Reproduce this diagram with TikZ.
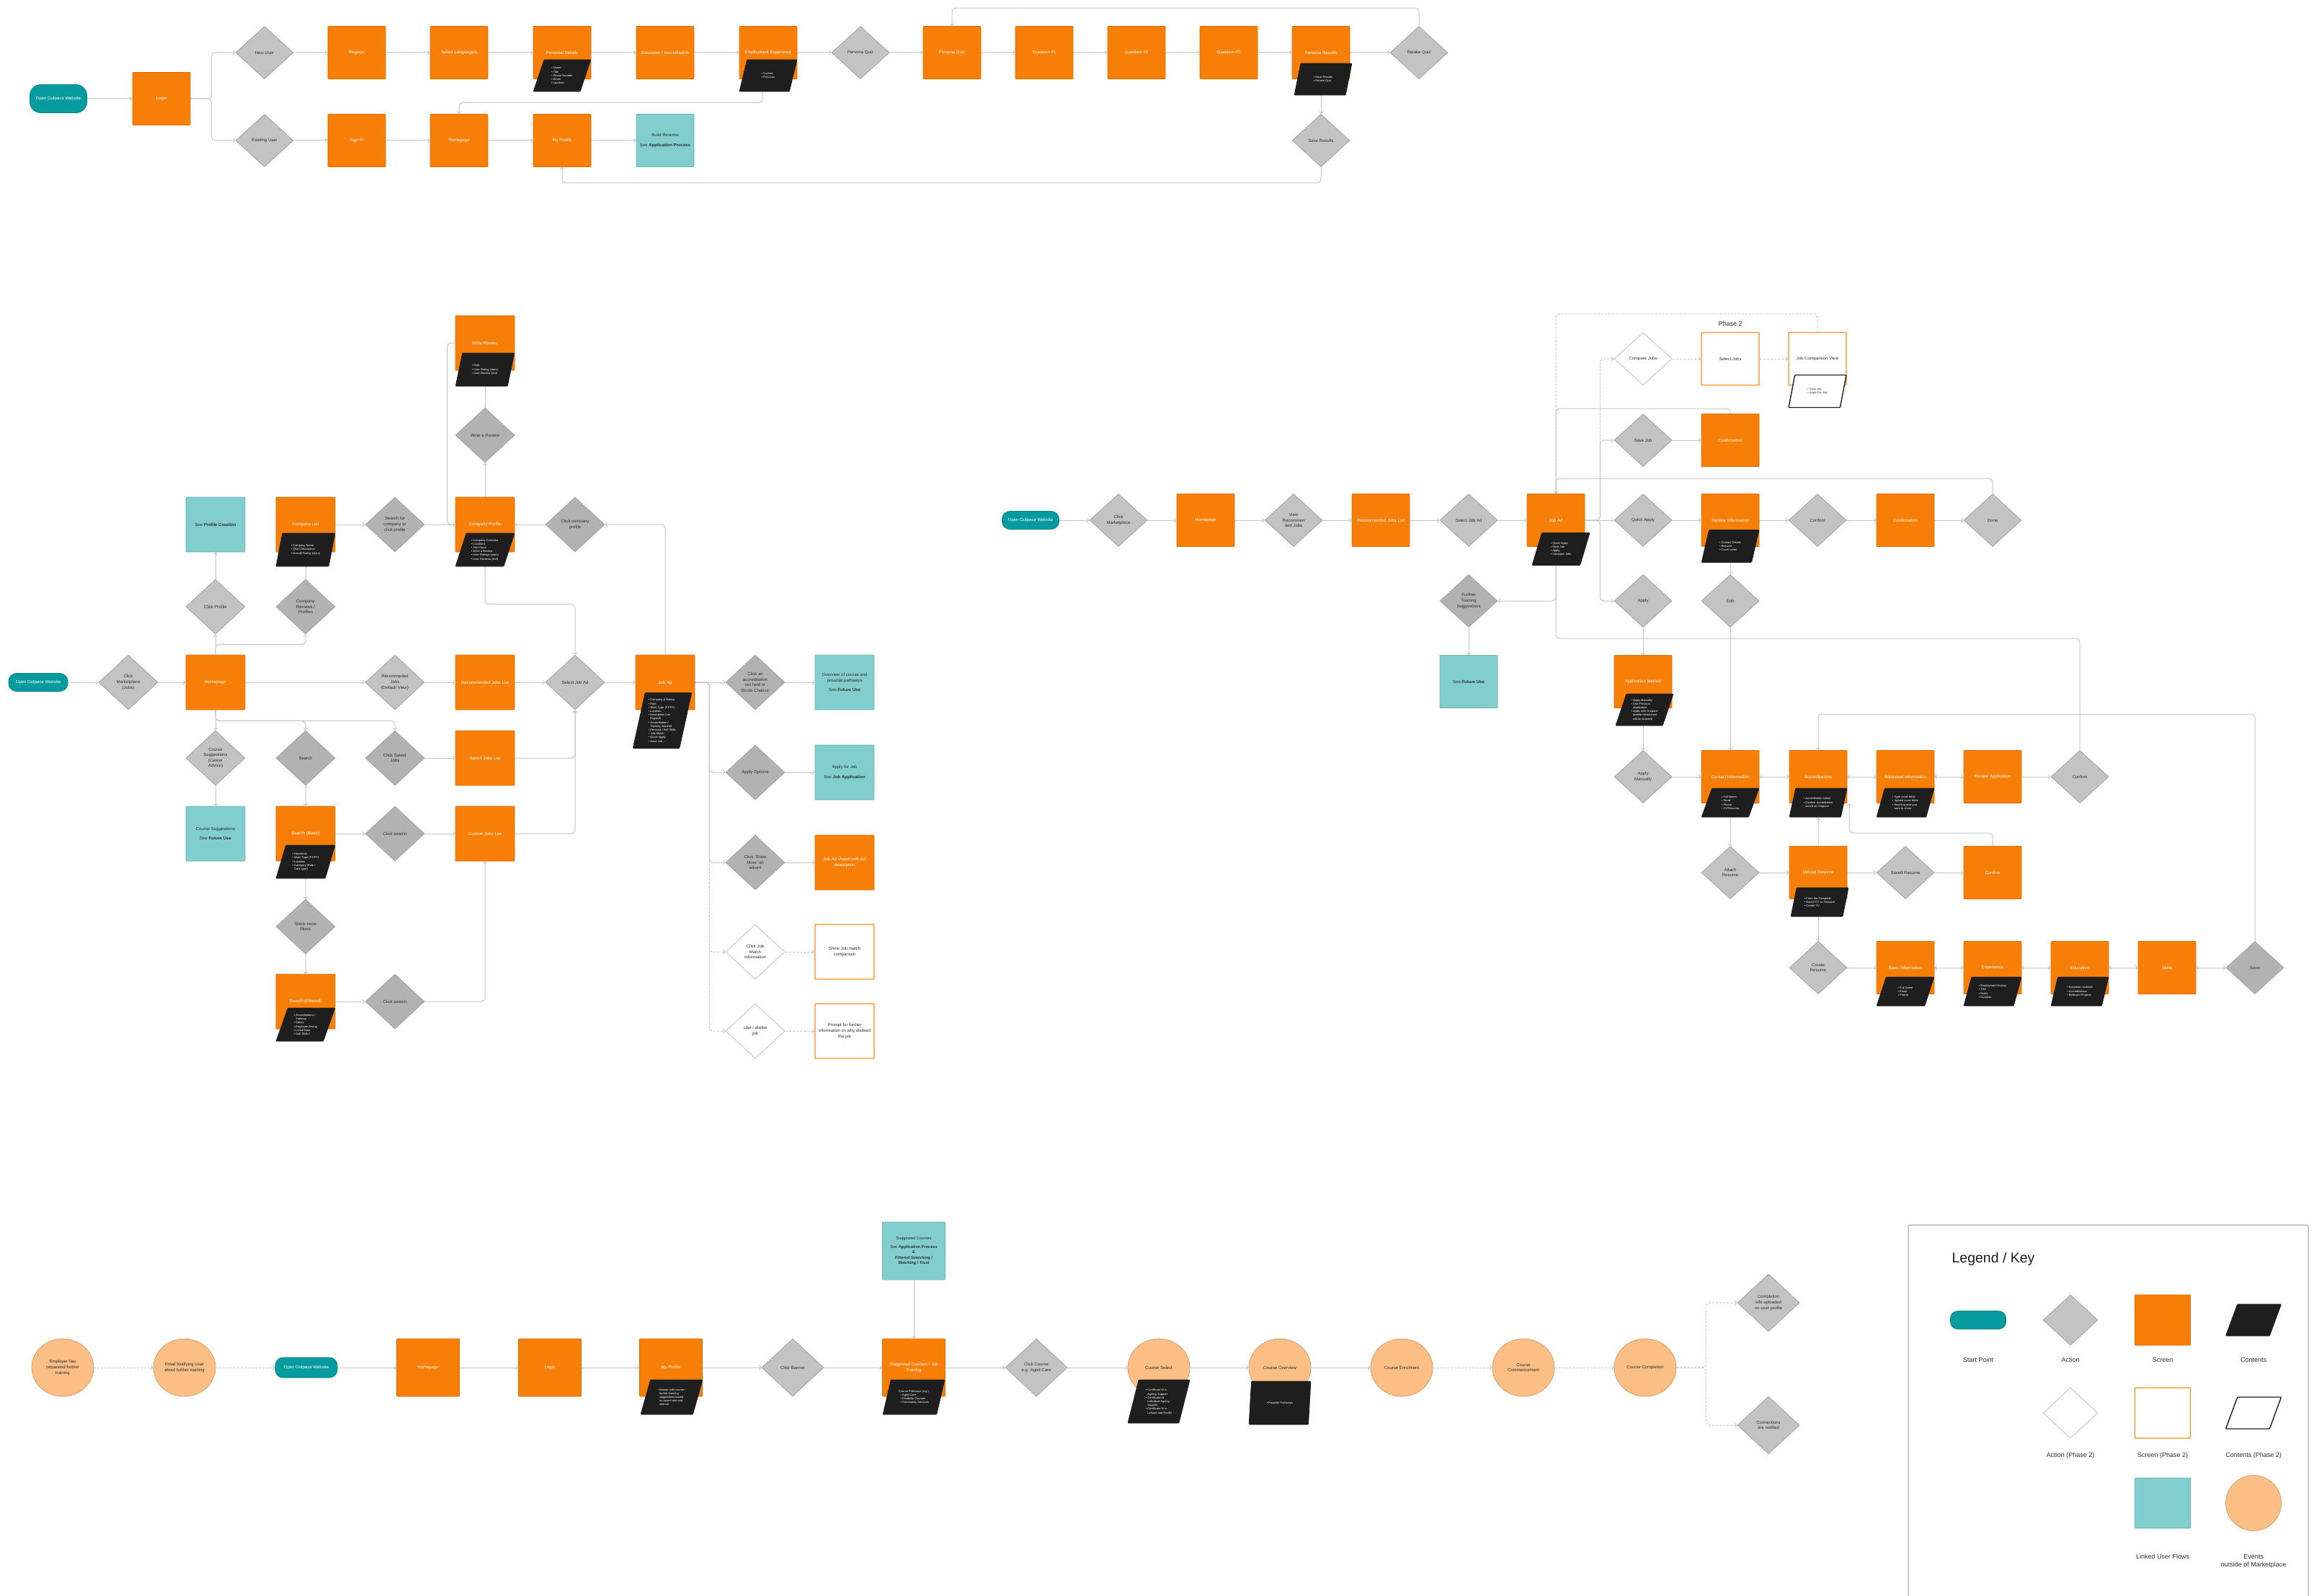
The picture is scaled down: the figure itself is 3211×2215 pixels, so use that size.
\documentclass[tikz,border=0pt]{standalone}
\usepackage{fontspec}
\setmainfont{Liberation Sans}
\usetikzlibrary{shapes.geometric,arrows.meta,positioning,calc}

\definecolor{scrorange}{HTML}{F77F07}
\definecolor{scredge}{HTML}{D8700A}
\definecolor{startteal}{HTML}{069B9E}
\definecolor{linkteal}{HTML}{82CECE}
\definecolor{linkedge}{HTML}{6DB3B4}
\definecolor{actlight}{HTML}{C3C3C3}
\definecolor{actdark}{HTML}{B2B2B2}
\definecolor{actedge}{HTML}{A3A3A3}
\definecolor{cntblack}{HTML}{1E1E1E}
\definecolor{peach}{HTML}{FBBE84}
\definecolor{peachedge}{HTML}{D3A273}
\definecolor{phaseorange}{HTML}{F98C1E}
\definecolor{phasegrey}{HTML}{C9C9C9}
\definecolor{linegrey}{HTML}{C6C6C6}
\definecolor{textdk}{HTML}{2E2E2E}
\definecolor{legendedge}{HTML}{BDBDBD}

\newcommand{\lblfont}{\fontsize{6}{7.6}\selectfont}
\newcommand{\cntfont}{\fontsize{4}{5.2}\selectfont}
\newcommand{\ind}{\phantom{• }}

\pgfdeclarelayer{bg}
\pgfsetlayers{bg,main}

\tikzset{
  scrbox/.style={rectangle, rounded corners=1pt, draw=scredge, fill=scrorange, line width=0.8pt,
    minimum width=80pt, minimum height=73pt, inner sep=1pt, align=center, text=white, font=\lblfont},
  linkbox/.style={scrbox, draw=linkedge, fill=linkteal, text=textdk},
  pscrbox/.style={scrbox, draw=phaseorange, fill=white, text=textdk, line width=1.4pt},
  actbox/.style={diamond, draw=actedge, fill=actlight, line width=0.8pt, minimum width=80pt,
    minimum height=73pt, inner sep=0pt, align=center, text=textdk, font=\lblfont},
  actboxdk/.style={actbox, fill=actdark},
  pactbox/.style={actbox, fill=white, draw=phasegrey, line width=1pt},
  startpt/.style={rectangle, rounded corners=11pt, draw=startteal!85!black, fill=startteal,
    line width=0.8pt, minimum width=79pt, minimum height=25pt, inner sep=1pt, text=white, font=\lblfont},
  eventbox/.style={ellipse, draw=peachedge, fill=peach, line width=0.8pt, minimum width=86pt,
    minimum height=80pt, inner sep=0pt, align=center, text=textdk, font=\lblfont},
  cntbox/.style={trapezium, trapezium left angle=70, trapezium right angle=110,
    trapezium stretches=true, rounded corners=1pt, draw=cntblack, fill=cntblack, line width=0.8pt,
    minimum width=80pt, minimum height=44pt, inner sep=1pt, align=left, text=white, font=\cntfont},
  pcntbox/.style={cntbox, fill=white, draw=cntblack, line width=1.4pt, text=textdk},
  link/.style={draw=linegrey, line width=1pt, rounded corners=5pt, -{Straight Barb[length=2.6pt,width=5.5pt]}},
  plink/.style={link, dash pattern=on 3pt off 2pt},
  twoway/.style={link, {Straight Barb[length=2.6pt,width=5.5pt]}-{Straight Barb[length=2.6pt,width=5.5pt]}},
  lgtext/.style={font=\fontsize{9}{11.5}\selectfont, text=textdk, align=center}
}

\begin{document}
\begin{tikzpicture}[x=1pt, y=-1pt]
\useasboundingbox (0,0) rectangle (3211,2215);

% ---- top flow: login / register / persona quiz
\node[startpt, minimum height=39pt, rounded corners=15pt] (s1start) at (81,137) {Open Outpace Website};
\node[scrbox] (s1login) at (224,137) {Login};
\node[actbox] (s1new) at (367,73) {New User};
\node[actbox] (s1exist) at (367,195) {Existing User};
\node[scrbox] (s1reg) at (495,73) {Register};
\node[scrbox] (s1lang) at (637,73) {Select Language/s};
\node[scrbox] (s1pers) at (780,73) {Personal Details};
\node[cntbox] (s1persC) at (780,105) {• Name\\• Title\\• Phone Number\\• Email\\• Location};
\node[scrbox] (s1edu) at (923,73) {Education / Accreditation};
\node[scrbox] (s1emp) at (1066,73) {Employment Experience};
\node[cntbox] (s1empC) at (1066,105) {• Current\\• Previous};
\node[actbox] (s1pq) at (1194,73) {Persona Quiz};
\node[scrbox] (s1pqs) at (1321,73) {Persona Quiz};
\node[scrbox] (s1q1) at (1449,73) {Question \#1};
\node[scrbox] (s1q2) at (1577,73) {Question \#2};
\node[scrbox] (s1q3) at (1705,73) {Question \#3};
\node[scrbox] (s1res) at (1833,73) {Persona Results};
\node[cntbox] (s1resC) at (1836,110) {• Save Results\\• Retake Quiz};
\node[actbox] (s1retake) at (1969,73) {Retake Quiz};
\node[actbox] (s1save) at (1833,195) {Save Results};
\node[scrbox] (s1sign) at (495,195) {Sign In};
\node[scrbox] (s1home) at (637,195) {Homepage};
\node[scrbox] (s1prof) at (780,195) {My Profile};
\node[linkbox] (s1build) at (923,195) {Build Resume\\[6pt]See \textbf{Application Process}};

% ---- marketplace (jobs) flow
\begin{scope}[scrbox/.append style={minimum width=82pt, minimum height=76pt},
              actbox/.append style={minimum width=82pt, minimum height=76pt},
              cntbox/.append style={minimum width=82pt, minimum height=46pt}]
\node[startpt, minimum width=82pt] (s2start) at (53,947) {Open Outpace Website};
\node[actbox] (s2mkt) at (178,947) {Click\\Marketplace\\(Jobs)};
\node[scrbox] (s2home) at (299,947) {Homepage};
\node[actbox] (s2recd) at (548,947) {Recommeded\\Jobs\\(Default View)};
\node[scrbox] (s2recl) at (673,947) {Recommended Jobs List};
\node[actbox] (s2sel) at (798,947) {Select Job Ad};
\node[scrbox] (s2job) at (923,947) {Job Ad};
\node[cntbox, minimum height=77pt, trapezium left angle=77, trapezium right angle=103] (s2jobC) at (919,1000)
  {• Company \& Rating\\• Role\\• Work Type (FT/PT)\\• Location\\• Description (via\\\ind Expand)\\• Accreditation /\\\ind Training required\\• Persona / Soft Skills\\• `Job Match'\\• Quick Apply\\• Save Job...};
\node[actboxdk] (s2accr) at (1048,947) {Click an\\accreditation\\not held or\\`Boost Chance'};
\node[linkbox] (s2over) at (1172,947) {Overview of course and\\possible pathways\\[6pt]See \textbf{Future Use}};
\node[actbox] (s2clkprof) at (299,842) {Click Profile};
\node[linkbox] (s2seeprof) at (299,728) {See \textbf{Profile Creation}};
\node[actboxdk] (s2rev) at (424,842) {Company\\Reviews /\\Profiles};
\node[scrbox] (s2clist) at (424,728) {Company List};
\node[cntbox] (s2clistC) at (424,763) {• Company Name\\• Short Description\\• Overall Rating (stars)};
\node[actboxdk] (s2srch) at (548,728) {Search for\\company or\\click profile};
\node[scrbox] (s2cprof) at (673,728) {Company Profile};
\node[cntbox] (s2cprofC) at (673,763) {• Company Overview\\• Locations\\• Job Count\\• Write a Review\\• User Ratings (stars)\\• User Reviews (text)};
\node[actboxdk] (s2wrd) at (673,604) {Write a Review};
\node[scrbox] (s2wr) at (673,476) {Write Review};
\node[cntbox] (s2wrC) at (673,513) {• Role\\• User Rating (stars)\\• User Review (text)};
\node[actboxdk] (s2clkcp) at (798,728) {Click company\\profile};
\node[actbox] (s2course) at (299,1052) {Course\\Suggestions\\(Career\\Advice)};
\node[actboxdk] (s2search) at (424,1052) {Search};
\node[actboxdk] (s2clksaved) at (548,1052) {Click Saved\\Jobs};
\node[scrbox] (s2saved) at (673,1052) {Saved Jobs List};
\node[linkbox] (s2coursel) at (299,1157) {Course Suggestions\\[6pt]See \textbf{Future Use}};
\node[scrbox] (s2basic) at (424,1157) {Search (Basic)};
\node[cntbox] (s2basicC) at (424,1196) {• Keywords\\• Work Type (FT/PT)\\• Location\\• Category (Role /\\\ind Care type)};
\node[actboxdk] (s2clks1) at (548,1157) {Click search};
\node[scrbox] (s2custom) at (673,1157) {Custom Jobs List};
\node[actboxdk] (s2more) at (424,1286) {Show more\\filters};
\node[scrbox] (s2filt) at (424,1390) {Search (Filtered)};
\node[cntbox] (s2filtC) at (424,1422) {• Accreditations /\\\ind Training\\• Salary\\• Employer Rating\\• Listed Date\\• Soft Skills?};
\node[actboxdk] (s2clks2) at (548,1390) {Click search};
\node[actboxdk] (s2apply) at (1048,1072) {Apply Options};
\node[linkbox] (s2applyj) at (1172,1072) {Apply for Job\\[6pt]See \textbf{Job Application}};
\node[actboxdk] (s2show) at (1048,1197) {Click `Show\\More' on\\advert};
\node[scrbox] (s2full) at (1172,1197) {Job Ad shown with full\\description};
\node[pactbox] (s2match) at (1048,1321) {Click Job\\Match\\Information};
\node[pscrbox] (s2matchs) at (1172,1321) {Show Job match\\comparison};
\node[pactbox] (s2like) at (1048,1431) {Like / dislike\\job};
\node[pscrbox] (s2prompt) at (1172,1431) {Prompt for further\\information on why disliked\\the job};
\end{scope}

% ---- job application flow
\node[startpt] (s3start) at (1430,722) {Open Outpace Website};
\node[actbox] (s3mkt) at (1552,722) {Click\\Marketplace};
\node[scrbox] (s3home) at (1673,722) {Homepage};
\node[actbox] (s3view) at (1795,722) {View\\Recommen\\ded Jobs};
\node[scrbox] (s3recl) at (1916,722) {Recommended Jobs List};
\node[actbox] (s3sel) at (2038,722) {Select Job Ad};
\node[scrbox] (s3job) at (2159,722) {Job Ad};
\node[cntbox, minimum height=45pt] (s3jobC) at (2166,762) {• Quick Apply\\• Save Job\\• Apply\\• Compare Jobs};
\node[actboxdk] (s3train) at (2038,834) {Further\\Training\\Suggestions};
\node[linkbox] (s3future) at (2038,946) {See \textbf{Future Use}};
\node[font=\fontsize{9}{11}\selectfont, text=textdk] (s3phase) at (2401,449) {Phase 2};
\node[pactbox] (s3cmp) at (2280,498) {Compare Jobs};
\node[pscrbox] (s3seljobs) at (2401,498) {Select Jobs};
\node[pscrbox] (s3cmpview) at (2522,498) {Job Comparison View};
\node[pcntbox, minimum height=45pt] (s3cmpviewC) at (2522,543) {• Save Job\\• Apply For Job};
\node[actbox] (s3save) at (2280,611) {Save Job};
\node[scrbox] (s3conf1) at (2401,611) {Confirmation};
\node[actbox] (s3quick) at (2280,722) {Quick Apply};
\node[scrbox] (s3review) at (2401,722) {Review Information};
\node[cntbox, minimum height=45pt] (s3reviewC) at (2401,758) {• Contact Details\\• Resume\\• Cover Letter};
\node[actbox] (s3confirm) at (2522,722) {Confirm};
\node[scrbox] (s3conf2) at (2644,722) {Confirmation};
\node[actbox] (s3done) at (2765,722) {Done};
\node[actbox] (s3apply) at (2280,834) {Apply};
\node[actbox] (s3edit) at (2401,834) {Edit};
\node[scrbox] (s3method) at (2280,946) {Application Method};
\node[cntbox] (s3methodC) at (2282,985) {• Apply Manually\\• Use Previous\\\ind Application\\• Apply with Outpace\\\ind (profile information\\\ind will be entered)};
\node[actbox] (s3manual) at (2280,1078) {Apply\\Manually};
\node[scrbox] (s3contact) at (2401,1078) {Contact Information};
\node[cntbox, minimum height=40pt] (s3contactC) at (2401,1114) {• Full Name\\• Email\\• Phone\\• CV/Resume};
\node[scrbox] (s3accr) at (2523,1078) {Accreditations};
\node[cntbox, minimum height=40pt] (s3accrC) at (2523,1114) {• Accreditation select\\• Confirm accreditation\\\ind saved on Outpace};
\node[scrbox] (s3addl) at (2644,1078) {Additional Information};
\node[cntbox, minimum height=40pt] (s3addlC) at (2644,1114) {• Type cover letter\\• Upload cover letter\\• Anything else you\\\ind want to share};
\node[scrbox] (s3revapp) at (2765,1078) {Review Application};
\node[actbox] (s3confd) at (2886,1078) {Confirm};
\node[actbox] (s3attach) at (2401,1211) {Attach\\Resume};
\node[scrbox] (s3upload) at (2523,1211) {Upload Resume};
\node[cntbox, minimum height=40pt] (s3uploadC) at (2525,1252) {• From the Computer\\• Saved CV on Outpace\\• Create CV};
\node[actbox] (s3savedr) at (2644,1211) {Saved Resume};
\node[scrbox] (s3confb) at (2765,1211) {Confirm};
\node[actbox] (s3create) at (2523,1343) {Create\\Resume};
\node[scrbox] (s3basic) at (2644,1343) {Basic Information};
\node[cntbox, minimum height=40pt] (s3basicC) at (2644,1376) {• Full Name\\• Email\\• Phone};
\node[scrbox] (s3exp) at (2765,1343) {Experience};
\node[cntbox, minimum height=40pt] (s3expC) at (2765,1376) {• Employment History\\• Title\\• Roles\\• Duration};
\node[scrbox] (s3edu) at (2886,1343) {Education};
\node[cntbox, minimum height=40pt] (s3eduC) at (2886,1376) {• Education Institute\\• Accreditations\\• Relevant Projects};
\node[scrbox] (s3skills) at (3007,1343) {Skills};
\node[actboxdk] (s3savec) at (3129,1343) {Save};

% ---- further training flow
\begin{scope}[scrbox/.append style={minimum width=87pt, minimum height=80pt},
              actbox/.append style={minimum width=86pt, minimum height=80pt},
              cntbox/.append style={minimum width=86pt, minimum height=48pt}]
\node[eventbox] (s4emp) at (87,1898) {Employer has\\requested further\\training};
\node[eventbox] (s4email) at (256,1898) {Email Notifying User\\about further training};
\node[startpt, minimum width=86pt, minimum height=28pt] (s4start) at (425,1898) {Open Outpace Website};
\node[scrbox] (s4home) at (594,1898) {Homepage};
\node[scrbox] (s4login) at (763,1898) {Login};
\node[scrbox] (s4prof) at (931,1898) {My Profile};
\node[cntbox] (s4profC) at (932,1939) {• Banner with course /\\\ind further learning\\\ind suggestions based\\\ind on recent role and\\\ind skill set};
\node[actbox] (s4banner) at (1100,1898) {Click Banner};
\node[scrbox] (s4sugg) at (1268,1898) {Suggested Courses / Job\\Training};
\node[cntbox] (s4suggC) at (1268,1939) {Course Pathways (e.g.)\\\ind • Aged Care\\\ind • Disability Courses\\\ind • Community Services};
\node[linkbox, font=\fontsize{5.6}{7.4}\selectfont] (s4teal) at (1268,1736)
  {Suggested Courses\\[5pt]See \textbf{Application Process}\\\textbf{\&}\\\textbf{Filtered Searching /}\\\textbf{Matching / Trust}};
\node[actbox] (s4click) at (1438,1898) {Click Course\\e.g. Aged Care};
\node[eventbox] (s4select) at (1608,1898) {Course Select};
\node[cntbox, minimum height=60pt, trapezium left angle=74, trapezium right angle=106] (s4selectC) at (1608,1945)
  {• Certificate IV in\\\ind Ageing Support\\• Certificate III\\\ind Individual Ageing\\\ind Support\\• Certificate IV in\\\ind Leisure and Health};
\node[eventbox] (s4overview) at (1776,1898) {Course Overview};
\node[cntbox, minimum height=60pt, trapezium left angle=74, trapezium right angle=106] (s4overviewC) at (1776,1947)
  {• Possible Pathways};
\node[eventbox] (s4enrol) at (1945,1898) {Course Enrolment};
\node[eventbox] (s4comm) at (2114,1898) {Course\\Commencement};
\node[eventbox] (s4compl) at (2283,1898) {Course Completion};
\node[actbox] (s4info) at (2454,1808) {Completion\\info uploaded\\on user profile};
\node[actbox] (s4conn) at (2454,1978) {Connections\\are notified};
\end{scope}

% ---- legend / key
\draw[legendedge, line width=1.5pt, rounded corners=2pt] (2648,1700) rectangle (3203,2240);
\node[anchor=west, font=\fontsize{19.5}{22}\selectfont, text=cntblack] (lgtitle) at (2705,1747) {Legend / Key};
\node[startpt, minimum width=77pt, rounded corners=10pt] (lgstart) at (2745,1832) {};
\node[actbox, minimum width=76pt, minimum height=70pt] (lgact) at (2873,1832) {};
\node[scrbox, minimum width=77pt, minimum height=70pt] (lgscr) at (3001,1832) {};
\node[cntbox, minimum width=77pt] (lgcnt) at (3127,1832) {};
\node[pactbox, minimum width=76pt, minimum height=70pt] (lgact2) at (2873,1961) {};
\node[pscrbox, minimum width=77pt, minimum height=70pt] (lgscr2) at (3001,1961) {};
\node[pcntbox, minimum width=77pt] (lgcnt2) at (3127,1961) {};
\node[linkbox, minimum width=77pt, minimum height=70pt] (lglink) at (3001,2086) {};
\node[eventbox, minimum width=77pt, minimum height=77pt] (lgevent) at (3127,2086) {};
\node[lgtext] (lgstartL) at (2745,1887) {Start Point};
\node[lgtext] (lgactL) at (2873,1887) {Action};
\node[lgtext] (lgscrL) at (3001,1887) {Screen};
\node[lgtext] (lgcntL) at (3127,1887) {Contents};
\node[lgtext] (lgact2L) at (2873,2020) {Action (Phase 2)};
\node[lgtext] (lgscr2L) at (3001,2020) {Screen (Phase 2)};
\node[lgtext] (lgcnt2L) at (3127,2020) {Contents (Phase 2)};
\node[lgtext] (lglinkL) at (3001,2160) {Linked User Flows};
\node[lgtext] (lgeventL) at (3127,2167) {Events\\outside of Marketplace};

% ---- connectors
\begin{pgfonlayer}{bg}
  \fill[white] (0,0) rectangle (3211,2215);
  % top flow
  \draw[link] (s1start) -- (s1login);
  \draw[link] (s1login.east) -- ++(29,0) |- (s1new.west);
  \draw[link] (s1login.east) -- ++(29,0) |- (s1exist.west);
  \foreach \a/\b in {s1new/s1reg, s1reg/s1lang, s1lang/s1pers, s1pers/s1edu, s1edu/s1emp, s1emp/s1pq,
      s1pq/s1pqs, s1pqs/s1q1, s1q1/s1q2, s1q2/s1q3, s1q3/s1res, s1res/s1retake,
      s1exist/s1sign, s1sign/s1home, s1home/s1prof, s1prof/s1build}
    \draw[link] (\a) -- (\b);
  \draw[link] (s1retake.north) -- ++(0,-25) -| (s1pqs.north);
  \draw[link] (s1save.north |- s1resC.south) -- (s1save.north);
  \draw[link] (s1save.south) -- ++(0,22) -| (s1prof.south);
  \draw[link] ([xshift=-8pt]s1empC.south) -- ++(0,15) -| (s1home.north);
  % marketplace flow
  \foreach \a/\b in {s2start/s2mkt, s2mkt/s2home, s2home/s2recd, s2recd/s2recl, s2recl/s2sel, s2sel/s2job,
      s2job/s2accr, s2accr/s2over, s2clist/s2srch, s2srch/s2cprof, s2clkcp/s2cprof,
      s2course/s2coursel, s2search/s2basic, s2clksaved/s2saved, s2basic/s2clks1, s2clks1/s2custom,
      s2more/s2filt, s2filt/s2clks2, s2apply/s2applyj, s2show/s2full, s2clkprof/s2seeprof}
    \draw[link] (\a) -- (\b);
  \draw[link] (s2home.north) -- (s2clkprof.south);
  \draw[link] (s2home.north) -- ++(0,-14) -| (s2rev.south);
  \draw[link] (s2rev.north) -- (s2clist.south);
  \draw[link] (s2cprof.north) -- (s2wrd.south);
  \draw[link] (s2wrd.north) -- (s2wr.south);
  \draw[link] (s2wr.west) -- ++(-11,0) |- (s2cprof.west);
  \draw[link] (s2job.north) |- (s2clkcp.east);
  \draw[link] (s2cprofC.south) -- ++(0,52) -| (s2sel.north);
  \draw[link] (s2home.south) -- (s2course.north);
  \draw[link] (s2home.south) -- ++(0,15) -| (s2search.north);
  \draw[link] (s2home.south) -- ++(0,15) -| (s2clksaved.north);
  \draw[link] (s2basicC.south) -- (s2more.north);
  \draw[link] (s2clks2.east) -| (s2custom.south);
  \draw[link] (s2saved.east) -| (s2sel.south);
  \draw[link] (s2custom.east) -| (s2sel.south);
  \draw[link] (s2job.east) -- ++(20,0) |- (s2apply.west);
  \draw[link] (s2job.east) -- ++(20,0) |- (s2show.west);
  \draw[plink] (s2job.east) -- ++(20,0) |- (s2match.west);
  \draw[plink] (s2job.east) -- ++(20,0) |- (s2like.west);
  \draw[plink] (s2match) -- (s2matchs);
  \draw[plink] (s2like) -- (s2prompt);
  % job application flow
  \foreach \a/\b in {s3start/s3mkt, s3mkt/s3home, s3home/s3view, s3view/s3recl, s3recl/s3sel, s3sel/s3job,
      s3save/s3conf1, s3quick/s3review, s3review/s3confirm, s3confirm/s3conf2, s3conf2/s3done,
      s3apply/s3method, s3train/s3future, s3manual/s3contact, s3revapp/s3confd,
      s3attach/s3upload, s3upload/s3savedr, s3savedr/s3confb, s3create/s3basic, s3job/s3quick}
    \draw[link] (\a) -- (\b);
  \foreach \a/\b in {s3contact/s3accr, s3accr/s3addl, s3addl/s3revapp,
      s3basic/s3exp, s3exp/s3edu, s3edu/s3skills, s3skills/s3savec}
    \draw[twoway] (\a) -- (\b);
  \draw[plink] (s3job.east) -- ++(21,0) |- (s3cmp.west);
  \draw[plink] (s3cmp) -- (s3seljobs);
  \draw[plink] (s3seljobs) -- (s3cmpview);
  \draw[plink] (s3cmpview.north) -- ++(0,-25) -| (s3job.north);
  \draw[link] (s3job.east) -- ++(21,0) |- (s3save.west);
  \draw[link] (s3job.east) -- ++(21,0) |- (s3apply.west);
  \draw[link] (s3conf1.north) -- ++(0,-7) -| (s3job.north);
  \draw[link] (s3done.north) -- ++(0,-21) -| (s3job.north);
  \draw[link] (s3job.south) |- (s3train.east);
  \draw[link] (s3confd.north) -- ++(0,-155) -| (s3job.south);
  \draw[link] (s3reviewC.south) -- (s3edit.north);
  \draw[link] (s3edit.south) -- (s3contact.north);
  \draw[link] (s3method.south) -- (s3manual.north);
  \draw[link] (s3contactC.south) -- (s3attach.north);
  \draw[link] (s3upload.north) -- (s3accrC.south);
  \draw[link] (s3confb.north) -- ++(0,-18) -| ([xshift=3pt]s3accr.south east);
  \draw[link] (s3upload.south) -- (s3create.north);
  \draw[link] (s3savec.north) -- ++(0,-315) -| (s3accr.north);
  % further training flow
  \draw[plink] (s4emp) -- (s4email);
  \draw[plink] (s4email) -- (s4start);
  \foreach \a/\b in {s4start/s4home, s4home/s4login, s4login/s4prof, s4prof/s4banner, s4banner/s4sugg,
      s4sugg/s4click, s4click/s4select, s4select/s4overview, s4overview/s4enrol, s4teal/s4sugg}
    \draw[link] (\a) -- (\b);
  \draw[plink] (s4enrol) -- (s4comm);
  \draw[plink] (s4comm) -- (s4compl);
  \draw[plink] (s4compl.east) -- ++(41,0) |- (s4info.west);
  \draw[plink] (s4compl.east) -- ++(41,0) |- (s4conn.west);
\end{pgfonlayer}
\end{tikzpicture}
\end{document}
